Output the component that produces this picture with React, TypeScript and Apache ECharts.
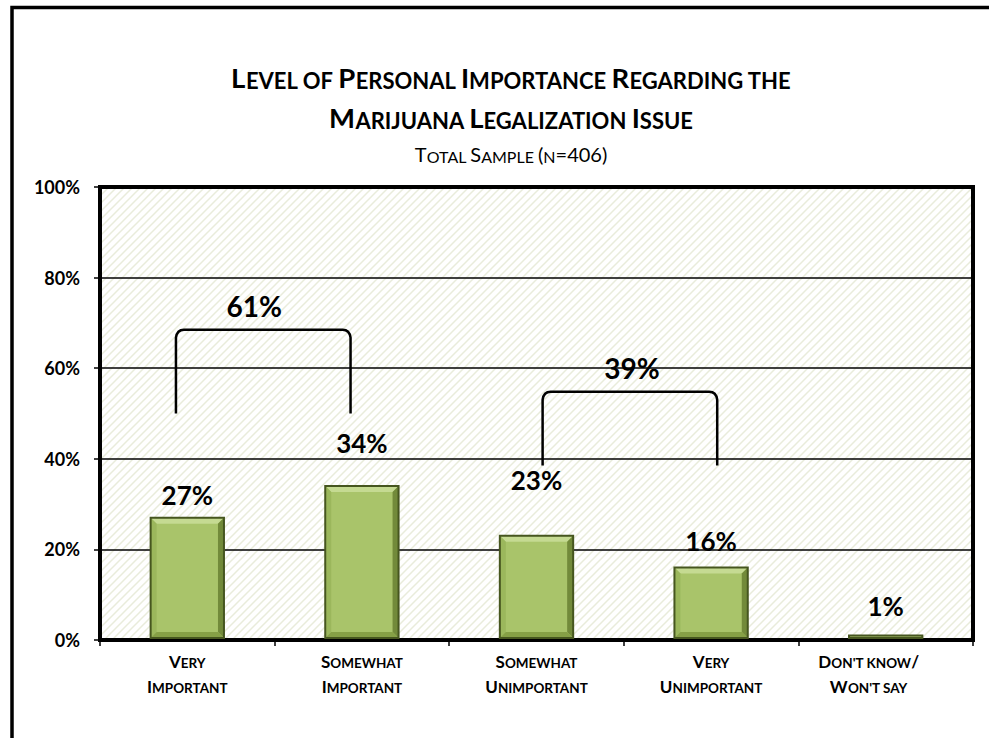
import React, { useEffect, useRef } from 'react';
import * as echarts from 'echarts';

// ---- data ----
const categories = ['Very\nImportant', 'Somewhat\nImportant', 'Somewhat\nUnimportant', 'Very\nUnimportant', "Don't know/\nWon't say"];
const values = [27, 34, 23, 16, 1];
const yMin = 0;
const yMax = 100;
const yStep = 20;
const titleLines = ['Level of Personal Importance Regarding the', 'Marijuana Legalization Issue'];
const subtitle = 'Total Sample (n=406)';
const bracketLabels = ['61%', '39%'];
const bracketFrom = [0, 2];
const bracketTo = [1, 3];
const bracketLow = [50, 38.5];
const bracketHigh = [68.5, 54.8];

// ---- layout (not data) ----
const labelLift = [23, 43, 56, 27, 29];
const bracketLegShift = [-0.065, 0.035];
const bracketLabelShift = [-9, 2];
const FONT = 'Lato, "Open Sans", sans-serif';

function smallCaps(line: string): string {
  let out = '';
  let cur = '';
  let buf = '';
  for (const ch of line) {
    const small = (ch >= 'a' && ch <= 'z') || ch === ' ' || ch === "'";
    const st = small ? 's' : 'b';
    if (st !== cur && buf) {
      out += `{${cur}|${buf}}`;
      buf = '';
    }
    cur = st;
    buf += ch.toUpperCase();
  }
  if (buf) out += `{${cur}|${buf}}`;
  return out;
}

function makePattern() {
  const c = document.createElement('canvas');
  c.width = 8;
  c.height = 8;
  const ctx = c.getContext('2d')!;
  ctx.fillStyle = '#ffffff';
  ctx.fillRect(0, 0, 8, 8);
  ctx.strokeStyle = '#e9ecdb';
  ctx.lineWidth = 1.5;
  ctx.beginPath();
  ctx.moveTo(-1, 9);
  ctx.lineTo(9, -1);
  ctx.moveTo(-1, 1);
  ctx.lineTo(1, -1);
  ctx.moveTo(7, 9);
  ctx.lineTo(9, 7);
  ctx.stroke();
  return c;
}

export default function App() {
  const ref = useRef<HTMLDivElement>(null);
  useEffect(() => {
    if (!ref.current) return;
    const chart = echarts.init(ref.current, null, { renderer: 'svg' });

    const richTitle = (big: number, small: number, weight: string) => ({
      b: { fontSize: big, fontWeight: weight, fontFamily: FONT, fill: '#000', color: '#000', verticalAlign: 'bottom', lineHeight: big * 1.2 },
      s: { fontSize: small, fontWeight: weight, fontFamily: FONT, fill: '#000', color: '#000', verticalAlign: 'bottom', lineHeight: big * 1.2 },
    });

    const titleText = (text: string, y: number, big: number, small: number, weight: string) => ({
      type: 'text',
      x: 511,
      y,
      style: {
        text,
        align: 'center',
        textAlign: 'center',
        verticalAlign: 'middle',
        textVerticalAlign: 'middle',
        rich: richTitle(big, small, weight),
      },
    });

    const xLabelFormatter = (v: string, i: number) => {
      const lines = v.split('\n').map(smallCaps);
      if (i === categories.length - 1) return lines.map((l) => l + '{e| }').join('\n');
      return lines.join('\n');
    };

    const option: any = {
      animation: false,
      backgroundColor: '#ffffff',
      graphic: [
        {
          type: 'rect',
          shape: { x: 12, y: 7.5, width: 1200, height: 1000 },
          style: { fill: 'none', stroke: '#000', lineWidth: 3.5 },
          z: 100,
        },
        titleText(smallCaps(titleLines[0]), 75, 27.5, 22, 'bold'),
        titleText(smallCaps(titleLines[1]), 115, 27.5, 22, 'bold'),
        titleText(smallCaps(subtitle), 152, 20, 16, 'normal'),
      ],
      grid: {
        show: true,
        left: 100,
        top: 187,
        right: 16,
        bottom: 98,
        backgroundColor: { image: makePattern(), repeat: 'repeat' },
        borderColor: '#000',
        borderWidth: 4,
      },
      xAxis: {
        type: 'category',
        data: categories,
        axisLine: { show: true, lineStyle: { color: '#000', width: 4 } },
        axisTick: { show: true, length: 6, lineStyle: { color: '#000', width: 1.5 } },
        axisLabel: {
          interval: 0,
          hideOverlap: false,
          margin: 5,
          formatter: xLabelFormatter,
          rich: {
            b: { fontSize: 17, fontWeight: 'bold', fontFamily: FONT, color: '#000', lineHeight: 25, verticalAlign: 'bottom' },
            s: { fontSize: 13.5, fontWeight: 'bold', fontFamily: FONT, color: '#000', lineHeight: 25, verticalAlign: 'bottom' },
            e: { fontSize: 13.5, width: 34, lineHeight: 25 },
          },
        },
        splitLine: { show: false },
      },
      yAxis: {
        type: 'value',
        min: yMin,
        max: yMax,
        interval: yStep,
        axisLine: { show: true, lineStyle: { color: '#000', width: 4 } },
        axisTick: { show: true, length: 6, lineStyle: { color: '#000', width: 1.5 } },
        axisLabel: {
          margin: 20,
          formatter: '{value}%',
          color: '#000',
          fontFamily: FONT,
          fontWeight: 'bold',
          fontSize: 18,
        },
        splitLine: { show: true, lineStyle: { color: '#000', width: 1.5 } },
      },
      series: [
        {
          type: 'custom',
          name: 'bars',
          encode: { x: 0, y: 1 },
          data: values.map((v, i) => [i, v]),
          renderItem: (params: any, api: any) => {
            const idx = api.value(0);
            const v = api.value(1);
            const top = api.coord([idx, v]);
            const base = api.coord([idx, 0]);
            const bw = api.size([1, 0])[0] * 0.42;
            const x0 = top[0] - bw / 2;
            const x1 = top[0] + bw / 2;
            const y0 = top[1];
            const y1 = base[1] - 2;
            const h = y1 - y0;
            const b = Math.max(0, Math.min(6, h / 2 - 0.5, bw / 2));
            const poly = (pts: number[][], fill: string) => ({ type: 'polygon', shape: { points: pts }, style: { fill } });
            return {
              type: 'group',
              children: [
                { type: 'rect', shape: { x: x0, y: y0, width: bw, height: h }, style: { fill: '#a9c46a' } },
                poly([[x0, y0], [x1, y0], [x1 - b, y0 + b], [x0 + b, y0 + b]], '#c5da92'),
                poly([[x0, y0], [x0 + b, y0 + b], [x0 + b, y1 - b], [x0, y1]], '#9bb75c'),
                poly([[x1, y0], [x1, y1], [x1 - b, y1 - b], [x1 - b, y0 + b]], '#728a3a'),
                poly([[x0, y1], [x0 + b, y1 - b], [x1 - b, y1 - b], [x1, y1]], '#86a046'),
                { type: 'rect', shape: { x: x0, y: y0, width: bw, height: h }, style: { fill: 'none', stroke: '#46561f', lineWidth: 2 } },
                {
                  type: 'text',
                  x: top[0],
                  y: y0 - labelLift[params.dataIndex],
                  style: {
                    text: v + '%',
                    fill: '#000',
                    font: `bold 26px ${FONT}`,
                    align: 'center',
                    textAlign: 'center',
                    verticalAlign: 'middle',
                    textVerticalAlign: 'middle',
                  },
                },
              ],
            };
          },
          z: 5,
        },
        {
          type: 'custom',
          name: 'brackets',
          encode: { x: [0, 1], y: [2, 3] },
          data: bracketLabels.map((_, i) => [bracketFrom[i], bracketTo[i], bracketLow[i], bracketHigh[i]]),
          renderItem: (params: any, api: any) => {
            const i = params.dataIndex;
            const band = api.size([1, 0])[0];
            const pFrom = api.coord([api.value(0), api.value(2)]);
            const pTo = api.coord([api.value(1), api.value(3)]);
            const xL = pFrom[0] + bracketLegShift[i] * band;
            const xR = pTo[0] + bracketLegShift[i] * band;
            const yLo = pFrom[1];
            const yHi = pTo[1];
            const r = 8;
            const d = `M${xL} ${yLo} L${xL} ${yHi + r} Q${xL + 1} ${yHi} ${xL + r} ${yHi} L${xR - r} ${yHi} Q${xR - 1} ${yHi} ${xR} ${yHi + r} L${xR} ${yLo}`;
            return {
              type: 'group',
              children: [
                { type: 'path', shape: { pathData: d }, style: { fill: 'none', stroke: '#000', lineWidth: 2.5 } },
                {
                  type: 'text',
                  x: (xL + xR) / 2 + bracketLabelShift[i],
                  y: yHi - 24,
                  style: {
                    text: bracketLabels[i],
                    fill: '#000',
                    font: `bold 28px ${FONT}`,
                    align: 'center',
                    textAlign: 'center',
                    verticalAlign: 'middle',
                    textVerticalAlign: 'middle',
                  },
                },
              ],
            };
          },
          z: 6,
        },
      ],
    };

    chart.setOption(option);
    return () => chart.dispose();
  }, []);

  return <div ref={ref} style={{ position: 'absolute', left: 0, top: 0, width: 989, height: 738 }} />;
}
